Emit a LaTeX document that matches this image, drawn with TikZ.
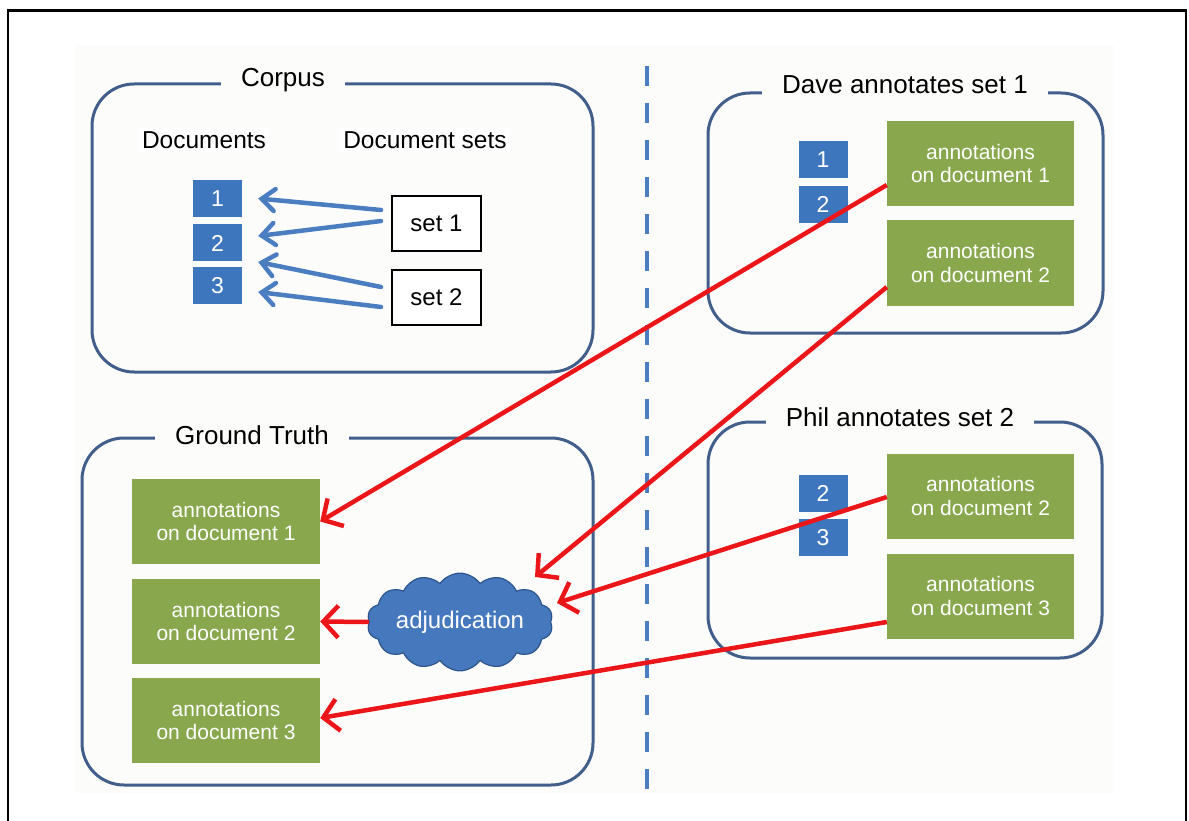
\documentclass[tikz,border=0pt]{standalone}
\usepackage{fontspec}
\setmainfont{Liberation Sans}
\usetikzlibrary{shapes.symbols,arrows.meta,calc}
\definecolor{panelbg}{RGB}{252,252,251}
\definecolor{boxblue}{RGB}{66,95,140}
\definecolor{docblue}{RGB}{62,118,190}
\definecolor{arrblue}{RGB}{74,126,192}
\definecolor{arrred}{RGB}{235,22,25}
\definecolor{annogreen}{RGB}{137,168,77}
\definecolor{cloudfill}{RGB}{70,120,190}
\definecolor{cloudline}{RGB}{45,85,140}
\begin{document}
\begin{tikzpicture}[x=1pt,y=-1pt,
  container/.style={draw=boxblue, line width=3pt, rounded corners=42pt, inner sep=0pt},
  boxtitle/.style={fill=panelbg, inner xsep=20pt, inner ysep=2pt, font=\fontsize{26}{30}\selectfont},
  header/.style={font=\fontsize{24.5}{28}\selectfont, fill=white, inner sep=3pt},
  docsq/.style={fill=docblue, text=white, minimum width=49pt, minimum height=37pt, inner sep=0pt, font=\fontsize{23}{24}\selectfont},
  setbox/.style={draw=black, line width=2pt, fill=white, minimum width=89pt, minimum height=55pt, inner sep=0pt, font=\fontsize{24}{26}\selectfont},
  anno/.style={fill=annogreen, text=white, minimum width=187pt, minimum height=85pt, inner sep=0pt, align=center, font=\fontsize{21}{23.5}\selectfont},
  bluearr/.style={draw=arrblue, line width=4.5pt, line cap=round, -{Straight Barb[length=13pt,width=22pt,line cap=round]}},
  redarr/.style={draw=arrred, line width=4.5pt, -{Straight Barb[length=15pt,width=32pt]}},
]
\useasboundingbox (0,0) rectangle (1189,821);
\fill[white] (0,0) rectangle (1189,821);
\fill[panelbg] (75,45) rectangle (1114,793);
\draw[black, line width=2.5pt] (8,830) -- (8,10.5) -- (1186,10.5) -- (1186,830);
\draw[arrblue, line width=3.5pt, dash pattern=on 20pt off 17pt] (647,66) -- (647,790);

% containers
\node[container, minimum width=501pt, minimum height=288pt] (corpus) at (342.5,228) {};
\node[container, minimum width=395pt, minimum height=240pt] (dave) at (905.5,213) {};
\node[container, minimum width=511pt, minimum height=347pt] (gt) at (337.5,611.5) {};
\node[container, minimum width=394pt, minimum height=236pt] (phil) at (905,540) {};

% titles
\node[boxtitle] (corpusT) at (283,80) {Corpus};
\node[boxtitle] (daveT) at (905,85) {Dave annotates set 1};
\node[boxtitle] (gtT) at (252,435) {Ground Truth};
\node[boxtitle] (philT) at (900,417) {Phil annotates set 2};

% corpus content
\node[header] (docsH) at (204,140) {Documents};
\node[header] (setsH) at (425,140) {Document sets};
\node[docsq] (c1) at (217.5,198.5) {1};
\node[docsq] (c2) at (217.5,243) {2};
\node[docsq] (c3) at (217.5,285.5) {3};
\node[setbox] (set1) at (436.5,223.5) {set 1};
\node[setbox] (set2) at (436.5,297.5) {set 2};

\draw[bluearr] ($(set1.west)+(-10,-13.5)$) -- ($(c1.east)+(16,0)$);
\draw[bluearr] ($(set1.west)+(-10,-2.5)$) -- ($(c2.east)+(16,-7)$);
\draw[bluearr] ($(set2.west)+(-10,-10.5)$) -- ($(c3.east)+(16,-23.5)$);
\draw[bluearr] ($(set2.west)+(-10,9.5)$) -- ($(c3.east)+(16,6.5)$);

% Dave
\node[docsq] (d1) at (823,159.5) {1};
\node[docsq] (d2) at (823,204.5) {2};
\node[anno] (dg1) at (980.5,163.5) {annotations\\on document 1};
\node[anno] (dg2) at (980.5,263) {annotations\\on document 2};

% Phil
\node[docsq] (p2) at (823,493.5) {2};
\node[docsq] (p3) at (823,537.5) {3};
\node[anno] (pg1) at (980.5,496) {annotations\\on document 2};
\node[anno] (pg2) at (980.5,596) {annotations\\on document 3};

% Ground truth
\node[anno, minimum width=188pt] (gt1) at (226,521.5) {annotations\\on document 1};
\node[anno, minimum width=188pt] (gt2) at (226,621.5) {annotations\\on document 2};
\node[anno, minimum width=188pt] (gt3) at (226,720.5) {annotations\\on document 3};

\node[cloud, cloud puffs=14, cloud puff arc=110, aspect=2.3, fill=cloudfill, draw=cloudline, line width=1.2pt,
      minimum width=165pt, minimum height=80pt, inner sep=0pt, text=white,
      font=\fontsize{24}{26}\selectfont] (adj) at (460,622) {adjudication};

\coordinate (adjin1) at ($(adj.center)+(75,-45)$);
\coordinate (adjin2) at ($(adj.center)+(97,-19)$);

% red arrows
\draw[redarr] ($(dg1.west)+(0,21.5)$) -- (gt1.east);
\draw[redarr] ($(dg2.west)+(0,24)$) -- (adjin1);
\draw[redarr] ($(pg1.west)+(0,1)$) -- (adjin2);
\draw[redarr] ($(pg2.west)+(0,26)$) -- ($(gt3.east)+(0,-2.5)$);
\draw[redarr] (adj.west) -- (gt2.east);
\end{tikzpicture}
\end{document}
